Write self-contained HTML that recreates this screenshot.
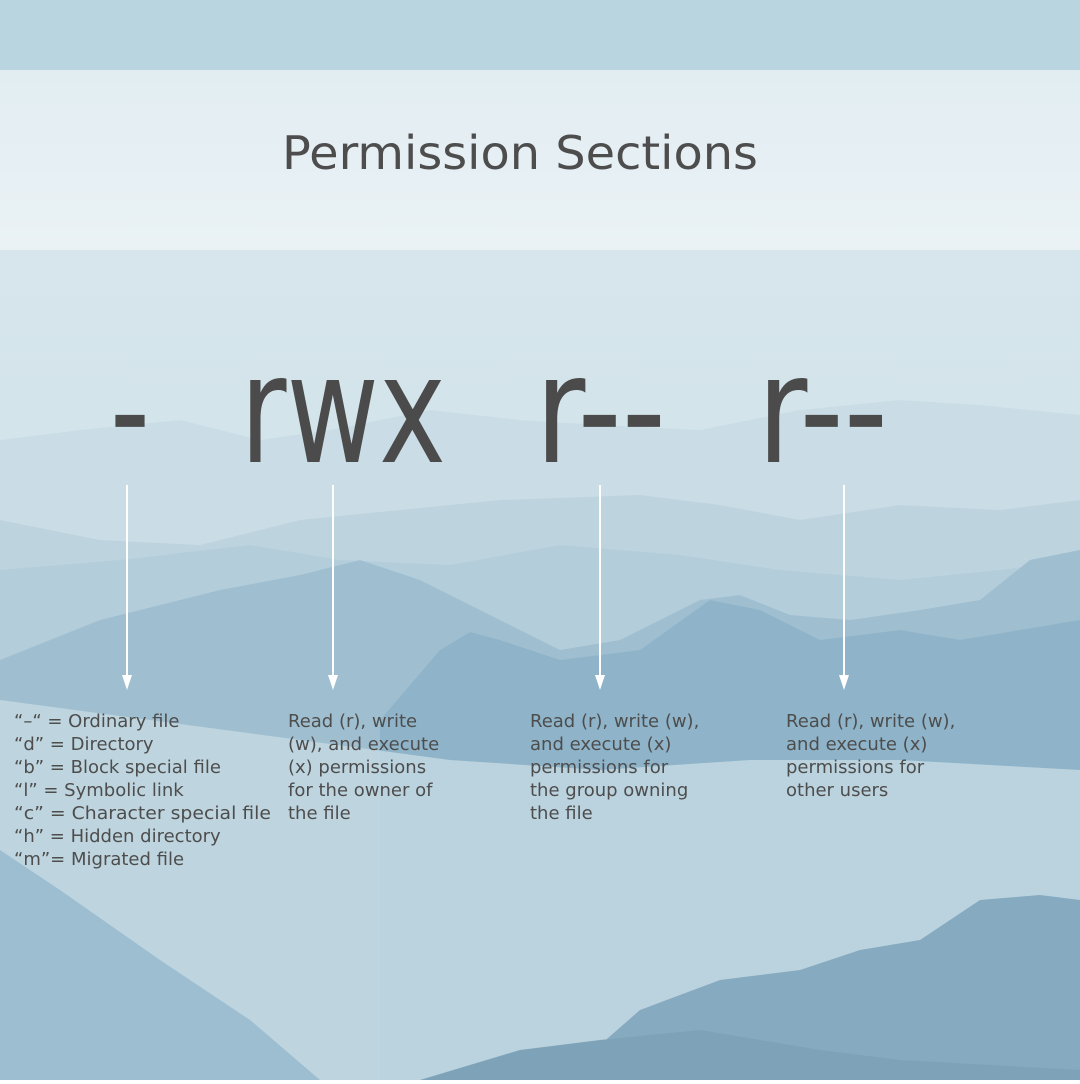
<!DOCTYPE html>
<html><head><meta charset="utf-8"><style>
html,body{margin:0;padding:0}
body{width:1080px;height:1080px;overflow:hidden;font-family:"DejaVu Sans","Liberation Sans",sans-serif}
</style></head><body>
<svg width="1080" height="1080" viewBox="0 0 1080 1080" xmlns="http://www.w3.org/2000/svg">
<defs>
<linearGradient id="sky" x1="0" y1="0" x2="0" y2="1">
<stop offset="0" stop-color="#dbe8ee"/><stop offset="0.5" stop-color="#d2e3ea"/><stop offset="1" stop-color="#c6dbe4"/>
</linearGradient>
<linearGradient id="hdr" x1="0" y1="0" x2="0" y2="1">
<stop offset="0" stop-color="#e2edf2"/><stop offset="1" stop-color="#eaf2f5"/>
</linearGradient>
</defs>
<rect width="1080" height="1080" fill="url(#sky)"/>
<rect width="1080" height="70" fill="#b9d5e0"/>
<!-- far ranges -->
<path d="M0 440 L80 430 L180 420 L260 440 L330 430 L430 410 L520 420 L600 425 L700 430 L800 410 L900 400 L980 405 L1080 415 L1080 1080 L0 1080Z" fill="#cadde6"/>
<path d="M0 520 L100 540 L200 545 L300 520 L400 510 L500 500 L640 495 L720 505 L800 520 L900 505 L1000 510 L1080 500 L1080 1080 L0 1080Z" fill="#bdd3de"/>
<path d="M0 570 L120 560 L250 545 L340 560 L450 565 L560 545 L680 555 L780 570 L900 580 L1000 570 L1080 560 L1080 1080 L0 1080Z" fill="#b3cddb"/>
<path d="M0 660 L100 620 L220 590 L300 575 L360 560 L420 580 L500 620 L560 650 L620 640 L700 600 L740 595 L790 615 L850 620 L920 610 L980 600 L1030 560 L1080 550 L1080 1080 L0 1080Z" fill="#9fbfd1"/>
<path d="M380 720 L440 650 L470 632 L500 640 L560 660 L640 650 L710 600 L760 610 L820 640 L900 630 L960 640 L1080 620 L1080 1080 L380 1080Z" fill="#8fb4c9"/>
<path d="M0 700 L150 720 L300 740 L450 760 L600 770 L750 760 L900 760 L1080 770 L1080 1080 L0 1080Z" fill="#c3d8e2" opacity="0.85"/>
<path d="M0 850 L60 890 L160 960 L250 1020 L320 1080 L0 1080Z" fill="#9dbdd0"/>
<path d="M560 1080 L640 1010 L720 980 L800 970 L860 950 L920 940 L980 900 L1040 895 L1080 900 L1080 1080Z" fill="#86aac0"/>
<path d="M420 1080 L520 1050 L600 1040 L700 1030 L760 1040 L820 1050 L900 1060 L1080 1070 L1080 1080Z" fill="#7ea2b8"/>
<rect y="70" width="1080" height="180" fill="url(#hdr)"/>
<text x="282" y="169" font-family="DejaVu Sans, Liberation Sans, sans-serif" font-size="46" fill="#4d4d4d" textLength="476" lengthAdjust="spacingAndGlyphs">Permission Sections</text>
<g font-family="DejaVu Sans, Liberation Sans, sans-serif" font-size="150" fill="#4b4b4b">
<text x="110" y="462" textLength="40" lengthAdjust="spacingAndGlyphs">-</text>
<text x="240" y="462" textLength="206" lengthAdjust="spacingAndGlyphs">rwx</text>
<text x="535" y="462" textLength="131" lengthAdjust="spacingAndGlyphs">r--</text>
<text x="757" y="462" textLength="131" lengthAdjust="spacingAndGlyphs">r--</text>
</g>
<g stroke="#ffffff" stroke-width="2" fill="#ffffff">
<line x1="127" y1="485" x2="127" y2="680"/><path d="M122 675 L127 690 L132 675Z" stroke="none"/>
<line x1="333" y1="485" x2="333" y2="680"/><path d="M328 675 L333 690 L338 675Z" stroke="none"/>
<line x1="600" y1="485" x2="600" y2="680"/><path d="M595 675 L600 690 L605 675Z" stroke="none"/>
<line x1="844" y1="485" x2="844" y2="680"/><path d="M839 675 L844 690 L849 675Z" stroke="none"/>
</g>
<g font-family="DejaVu Sans, Liberation Sans, sans-serif" font-size="18" fill="#4d4d4d">
<text x="14" y="727">“–“ = Ordinary file</text>
<text x="14" y="750">“d” = Directory</text>
<text x="14" y="773">“b” = Block special file</text>
<text x="14" y="796">“l” = Symbolic link</text>
<text x="14" y="819" textLength="257" lengthAdjust="spacingAndGlyphs">“c” = Character special file</text>
<text x="14" y="842">“h” = Hidden directory</text>
<text x="14" y="865">“m”= Migrated file</text>
<text x="288" y="727">Read (r), write</text>
<text x="288" y="750">(w), and execute</text>
<text x="288" y="773">(x) permissions</text>
<text x="288" y="796">for the owner of</text>
<text x="288" y="819">the file</text>
<text x="530" y="727">Read (r), write (w),</text>
<text x="530" y="750">and execute (x)</text>
<text x="530" y="773">permissions for</text>
<text x="530" y="796">the group owning</text>
<text x="530" y="819">the file</text>
<text x="786" y="727">Read (r), write (w),</text>
<text x="786" y="750">and execute (x)</text>
<text x="786" y="773">permissions for</text>
<text x="786" y="796">other users</text>
</g>
</svg>
</body></html>
